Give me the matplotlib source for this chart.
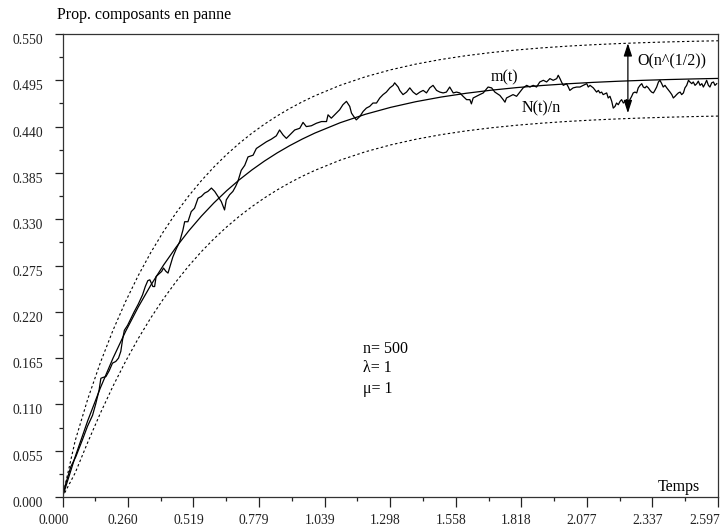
import matplotlib
matplotlib.use("Agg")
import matplotlib.pyplot as plt
from matplotlib.transforms import ScaledTranslation

plt.rcParams["font.family"] = ["Liberation Serif", "DejaVu Serif"]

# Mean proportion m(t) and its +/- band, sampled along time
t_curve = [0.00, 0.05, 0.10, 0.15, 0.20, 0.25, 0.30, 0.35, 0.40, 0.45, 0.50,
           0.55, 0.60, 0.65, 0.70, 0.75, 0.80, 0.85, 0.90, 0.95, 1.00,
           1.10, 1.20, 1.30, 1.40, 1.50, 1.60, 1.70, 1.80, 1.90, 2.00,
           2.10, 2.20, 2.30, 2.40, 2.50, 2.597]
m_curve = [0.0, 0.04758, 0.09063, 0.12959, 0.16484, 0.19673, 0.22559, 0.25171,
           0.27534, 0.29672, 0.31606, 0.33356, 0.34940, 0.36373, 0.37670,
           0.38844, 0.39905, 0.40866, 0.41735, 0.42522, 0.43233, 0.44460,
           0.45464, 0.46286, 0.46960, 0.47511, 0.47962, 0.48331, 0.48634,
           0.48881, 0.49084, 0.49250, 0.49386, 0.49497, 0.49589, 0.49663,
           0.49723]
upper_band = [0.0, 0.0666, 0.11631, 0.15963, 0.19803, 0.23229, 0.26297, 0.29053,
              0.31529, 0.33758, 0.35765, 0.37573, 0.39205, 0.40676, 0.42004,
              0.43203, 0.44285, 0.45263, 0.46146, 0.46944, 0.47664, 0.48905,
              0.49918, 0.50746, 0.51424, 0.51978, 0.52430, 0.52801, 0.53104,
              0.53352, 0.53556, 0.53722, 0.53858, 0.53969, 0.54061, 0.54135,
              0.54195]
lower_band = [0.0, 0.0285, 0.06495, 0.09955, 0.13165, 0.16117, 0.18821, 0.21289,
              0.23539, 0.25586, 0.27447, 0.29139, 0.30675, 0.32070, 0.33336,
              0.34485, 0.35525, 0.36469, 0.37324, 0.38100, 0.38802, 0.40015,
              0.41010, 0.41826, 0.42496, 0.43044, 0.43494, 0.43861, 0.44164,
              0.44410, 0.44612, 0.44778, 0.44914, 0.45025, 0.45117, 0.45191,
              0.45251]

# Simulated proportion N(t)/n
t_path = [0.000, 0.013, 0.033, 0.053, 0.079, 0.099, 0.119, 0.132, 0.145, 0.152,
          0.160, 0.172, 0.185, 0.198, 0.211, 0.222, 0.231, 0.238, 0.245, 0.258,
          0.271, 0.284, 0.300, 0.317, 0.328, 0.338, 0.346, 0.352, 0.358, 0.365,
          0.371, 0.382, 0.393, 0.400, 0.410, 0.418, 0.426, 0.437, 0.451, 0.464,
          0.477, 0.484, 0.497, 0.510, 0.523, 0.537, 0.550, 0.563, 0.576, 0.590,
          0.603, 0.616, 0.629, 0.642, 0.649, 0.662, 0.675, 0.686, 0.695, 0.708,
          0.722, 0.735, 0.755, 0.768, 0.788, 0.808, 0.827, 0.847, 0.860, 0.874,
          0.887, 0.900, 0.920, 0.940, 0.953, 0.966, 0.986, 1.006, 1.026, 1.046,
          1.052, 1.065, 1.085, 1.098, 1.111, 1.125, 1.138, 1.145, 1.154, 1.164,
          1.178, 1.191, 1.204, 1.217, 1.230, 1.244, 1.257, 1.270, 1.283, 1.297,
          1.310, 1.316, 1.330, 1.336, 1.349, 1.363, 1.376, 1.389, 1.402, 1.416,
          1.429, 1.442, 1.455, 1.468, 1.482, 1.495, 1.508, 1.521, 1.534, 1.548,
          1.561, 1.574, 1.587, 1.601, 1.614, 1.620, 1.627, 1.640, 1.653, 1.667,
          1.686, 1.700, 1.713, 1.733, 1.746, 1.753, 1.759, 1.772, 1.785, 1.799,
          1.812, 1.825, 1.839, 1.852, 1.865, 1.878, 1.891, 1.905, 1.918, 1.931,
          1.944, 1.958, 1.964, 1.971, 1.977, 1.984, 1.997, 2.004, 2.010, 2.023,
          2.037, 2.050, 2.063, 2.077, 2.083, 2.090, 2.103, 2.116, 2.123, 2.129,
          2.136, 2.142, 2.156, 2.162, 2.169, 2.176, 2.182, 2.189, 2.195, 2.202,
          2.209, 2.215, 2.222, 2.228, 2.235, 2.242, 2.248, 2.255, 2.261, 2.268,
          2.275, 2.281, 2.288, 2.295, 2.301, 2.308, 2.314, 2.321, 2.328, 2.334,
          2.341, 2.347, 2.354, 2.361, 2.367, 2.374, 2.380, 2.387, 2.394, 2.407,
          2.414, 2.420, 2.427, 2.433, 2.440, 2.447, 2.453, 2.460, 2.466, 2.473,
          2.480, 2.486, 2.493, 2.499, 2.506, 2.513, 2.519, 2.526, 2.533, 2.539,
          2.546, 2.552, 2.559, 2.565, 2.572, 2.579, 2.585, 2.592]
v_path = [0.000, 0.016, 0.036, 0.048, 0.068, 0.084, 0.097, 0.111, 0.127, 0.141,
          0.142, 0.143, 0.150, 0.159, 0.161, 0.165, 0.173, 0.187, 0.198, 0.204,
          0.212, 0.220, 0.229, 0.240, 0.250, 0.257, 0.258, 0.254, 0.250, 0.250,
          0.262, 0.265, 0.268, 0.272, 0.268, 0.266, 0.274, 0.285, 0.295, 0.303,
          0.317, 0.327, 0.327, 0.339, 0.343, 0.355, 0.357, 0.361, 0.363, 0.367,
          0.363, 0.357, 0.351, 0.341, 0.353, 0.359, 0.363, 0.369, 0.375, 0.388,
          0.394, 0.404, 0.406, 0.414, 0.418, 0.422, 0.425, 0.429, 0.436, 0.430,
          0.426, 0.430, 0.436, 0.438, 0.445, 0.440, 0.441, 0.444, 0.446, 0.446,
          0.454, 0.450, 0.456, 0.460, 0.466, 0.470, 0.464, 0.456, 0.452, 0.448,
          0.452, 0.458, 0.462, 0.464, 0.468, 0.468, 0.474, 0.478, 0.481, 0.486,
          0.489, 0.492, 0.487, 0.483, 0.478, 0.481, 0.486, 0.481, 0.478, 0.481,
          0.483, 0.480, 0.486, 0.489, 0.483, 0.481, 0.480, 0.481, 0.487, 0.480,
          0.481, 0.480, 0.476, 0.472, 0.472, 0.467, 0.474, 0.476, 0.478, 0.480,
          0.487, 0.486, 0.481, 0.477, 0.472, 0.469, 0.474, 0.476, 0.478, 0.476,
          0.481, 0.486, 0.489, 0.487, 0.489, 0.487, 0.493, 0.495, 0.493, 0.497,
          0.495, 0.497, 0.501, 0.497, 0.493, 0.489, 0.491, 0.487, 0.483, 0.486,
          0.487, 0.487, 0.489, 0.491, 0.487, 0.489, 0.486, 0.481, 0.483, 0.480,
          0.481, 0.478, 0.480, 0.474, 0.476, 0.470, 0.462, 0.464, 0.468, 0.466,
          0.470, 0.472, 0.468, 0.470, 0.472, 0.468, 0.472, 0.476, 0.480, 0.481,
          0.480, 0.486, 0.489, 0.491, 0.487, 0.486, 0.488, 0.486, 0.483, 0.481,
          0.480, 0.483, 0.487, 0.493, 0.495, 0.491, 0.487, 0.489, 0.486, 0.481,
          0.478, 0.474, 0.476, 0.478, 0.480, 0.481, 0.478, 0.480, 0.486, 0.489,
          0.495, 0.493, 0.491, 0.493, 0.489, 0.491, 0.494, 0.489, 0.491, 0.487,
          0.491, 0.495, 0.489, 0.487, 0.492, 0.493, 0.489, 0.491]

x_ticks = [0.000, 0.260, 0.519, 0.779, 1.039, 1.298, 1.558, 1.818, 2.077, 2.337, 2.597]
x_labels = ["0.000", "0.260", "0.519", "0.779", "1.039", "1.298", "1.558",
            "1.818", "2.077", "2.337", "2.597"]
y_ticks = [0.000, 0.055, 0.110, 0.165, 0.220, 0.275, 0.330, 0.385, 0.440, 0.495, 0.550]
y_labels = ["0.000", "0.055", "0.110", "0.165", "0.220", "0.275", "0.330",
            "0.385", "0.440", "0.495", "0.550"]

# Spread between the bands at one instant
arrow_t = 2.240
arrow_low = 0.456
arrow_high = 0.539

params = ["n= 500", "\u03bb= 1", "\u03bc= 1"]

fig = plt.figure(figsize=(7.28, 5.31), dpi=100)
ax = fig.add_axes([62.5 / 728, 34 / 531, (718 - 62.5) / 728, (497 - 34) / 531])

ax.plot(t_curve, upper_band, color="black", lw=0.8, ls=(0, (2.2, 2.2)))
ax.plot(t_curve, lower_band, color="black", lw=0.8, ls=(0, (2.2, 2.2)))
ax.plot(t_curve, m_curve, color="black", lw=0.9)
ax.plot(t_path, v_path, color="black", lw=0.9)

ax.annotate("", xy=(arrow_t, arrow_high), xytext=(arrow_t, arrow_low),
            arrowprops=dict(arrowstyle="<|-|>,head_length=0.55,head_width=0.18",
                            color="black", lw=0.9, mutation_scale=14,
                            shrinkA=0, shrinkB=0))

ax.set_xlim(0, 2.597)
ax.set_ylim(0, 0.55)
ax.set_xticks(x_ticks)
ax.set_xticklabels(x_labels)
ax.set_yticks(y_ticks)
ax.set_yticklabels(y_labels)
ax.set_xticks([(a + b) / 2 for a, b in zip(x_ticks[:-1], x_ticks[1:])], minor=True)
ax.set_yticks([(a + b) / 2 for a, b in zip(y_ticks[:-1], y_ticks[1:])], minor=True)

ax.tick_params(axis="x", which="major", direction="out", length=7, width=0.9,
               pad=5, labelsize=9.8, colors="#222222")
ax.tick_params(axis="y", which="major", direction="out", length=6, width=0.9,
               pad=8, labelsize=9.8, colors="#222222")
ax.tick_params(which="minor", direction="out", length=3, width=0.9, colors="#222222")

for sp in ax.spines.values():
    sp.set_linewidth(0.9)
    sp.set_color("#333333")

# nudge tick labels the way the plotter placed them
for i, lab in enumerate(ax.get_xticklabels()):
    dx = -5
    if i == 0:
        dx = -9
    elif i == len(x_labels) - 1:
        dx = -13
    lab.set_transform(lab.get_transform() + ScaledTranslation(dx / 100, 0, fig.dpi_scale_trans))
for lab in ax.get_yticklabels():
    lab.set_transform(lab.get_transform() + ScaledTranslation(0, -5 / 100, fig.dpi_scale_trans))

fs = 11.5
fig.text(57 / 728, 1 - 15 / 531, "Prop. composants en panne", fontsize=fs,
         ha="left", va="center")
ax.text(2.443, 0.012, "Temps", fontsize=fs, ha="center", va="center")
ax.text(1.753, 0.499, "m(t)", fontsize=fs, ha="center", va="center")
ax.text(1.895, 0.462, "N(t)/n", fontsize=fs, ha="center", va="center")
ax.text(2.276, 0.518, "O(n^(1/2))", fontsize=fs, ha="left", va="center")
for k, (s, v) in enumerate(zip(params, [0.176, 0.153, 0.128])):
    ax.text(1.190, v, s, fontsize=fs, ha="left", va="center")

fig.savefig("out.png", dpi=100)
